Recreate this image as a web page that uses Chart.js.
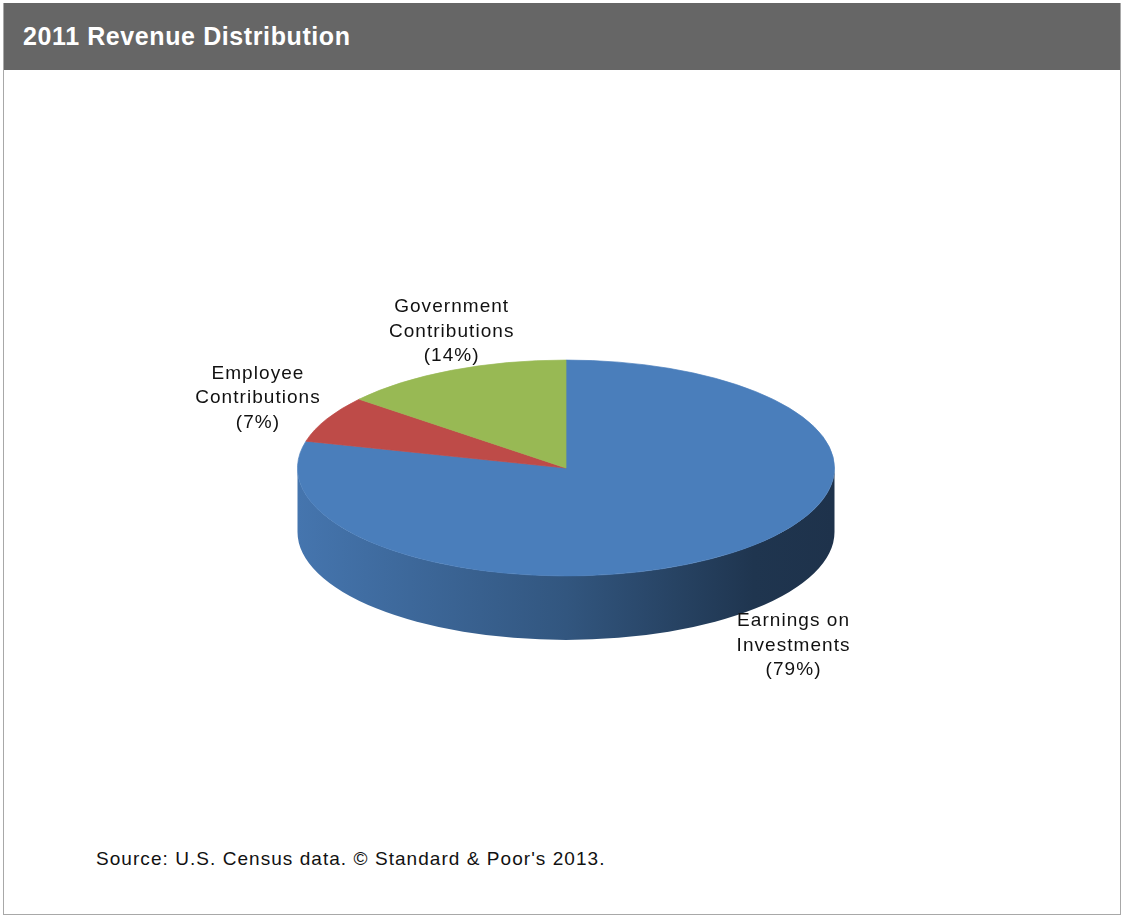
<!DOCTYPE html>
<html lang="en">
  <head>
    <meta charset="UTF-8" />
    <title>2011 Revenue Distribution</title>
    <script src="https://cdn.jsdelivr.net/npm/chart.js"></script>
    <style>
      body { margin: 0; background: #fff; width: 1123px; height: 918px; overflow: hidden; }
      #frame {
        position: absolute; left: 3px; top: 3px; width: 1118px; height: 912px;
        box-sizing: border-box; border: 1px solid #a8a8a8; border-top: none;
      }
      #header {
        height: 67px; background: #666666; color: #fff;
        font: bold 25px "Liberation Sans", Arial, sans-serif; letter-spacing: 0.6px;
        line-height: 67px; padding-left: 19px;
      }
      #source {
        position: absolute; left: 92px; top: 845px;
        font: 19px "Liberation Sans", Arial, sans-serif; letter-spacing: 1.05px; color: #111;
      }
      #pie { position: absolute; left: 0; top: 0; }
    </style>
  </head>
  <body>
    <div id="frame">
      <div id="header">2011 Revenue Distribution</div>
      <div id="source">Source: U.S. Census data. © Standard &amp; Poor's 2013.</div>
    </div>
    <canvas id="pie" width="1123" height="918"></canvas>

    <script>
      // data
      var categories = ["Earnings on Investments", "Employee Contributions", "Government Contributions"];
      var labelLines = [["Earnings on", "Investments"], ["Employee", "Contributions"], ["Government", "Contributions"]];
      var shares = [79, 7, 14];
      var sliceColors = ["#4a7ebb", "#be4b48", "#98b954"];

      var TILT = 0.402; // vertical squash of the pie
      var DEPTH = 64;   // thickness of the 3D side

      function shade(hex, f) {
        var n = parseInt(hex.slice(1), 16);
        var r = Math.round(((n >> 16) & 255) * f);
        var g = Math.round(((n >> 8) & 255) * f);
        var b = Math.round((n & 255) * f);
        return "rgb(" + r + "," + g + "," + b + ")";
      }

      var pie3d = {
        id: "pie3d",
        beforeDatasetsDraw: function (chart) {
          var ctx = chart.ctx;
          var arcs = chart.getDatasetMeta(0).data;
          var cx = arcs[0].x, cy = arcs[0].y, R = arcs[0].outerRadius;

          // side wall, only the front half (canvas angles 0..PI) is visible
          arcs.forEach(function (arc, i) {
            var a1 = Math.max(arc.startAngle, 0);
            var a2 = Math.min(arc.endAngle, Math.PI);
            if (a2 <= a1) return;
            var grad = ctx.createLinearGradient(cx - R, 0, cx + R, 0);
            grad.addColorStop(0, shade(sliceColors[i], 0.93));
            grad.addColorStop(0.5, shade(sliceColors[i], 0.68));
            grad.addColorStop(0.85, shade(sliceColors[i], 0.42));
            grad.addColorStop(1, shade(sliceColors[i], 0.4));
            ctx.beginPath();
            ctx.ellipse(cx, cy, R, R * TILT, 0, a1, a2);
            ctx.ellipse(cx, cy + DEPTH, R, R * TILT, 0, a2, a1, true);
            ctx.closePath();
            ctx.fillStyle = grad;
            ctx.fill();
          });

          // squash the top face
          ctx.save();
          ctx.translate(cx, cy);
          ctx.scale(1, TILT);
          ctx.translate(-cx, -cy);
        },
        afterDatasetsDraw: function (chart) {
          var ctx = chart.ctx;
          ctx.restore();

          var arcs = chart.getDatasetMeta(0).data;
          var lh = 24.5, gap = 6;
          ctx.save();
          ctx.font = '19px "Liberation Sans", Arial, sans-serif';
          ctx.letterSpacing = "1.05px";
          ctx.fillStyle = "#111";
          ctx.textAlign = "center";
          ctx.textBaseline = "middle";
          arcs.forEach(function (arc, i) {
            var mid = (arc.startAngle + arc.endAngle) / 2;
            var c = Math.cos(mid), s = Math.sin(mid);
            var px = arc.x + arc.outerRadius * c;
            var py = arc.y + arc.outerRadius * TILT * s + (s > 0 ? DEPTH : 0);
            var lines = labelLines[i].concat(["(" + shares[i] + "%)"]);
            var w = 0;
            lines.forEach(function (t) { w = Math.max(w, ctx.measureText(t).width); });
            var h = lines.length * lh;
            var bx;
            if (c > 0.5) bx = px + gap + w / 2;
            else if (c < -0.5) bx = px - gap - w / 2;
            else bx = px;
            var by = py + s * (h / 2 + 3) - 3;
            lines.forEach(function (t, k) {
              ctx.fillText(t, bx, by - h / 2 + lh * (k + 0.5));
            });
          });
          ctx.restore();
        },
      };

      new Chart(document.getElementById("pie"), {
        type: "pie",
        data: {
          labels: categories,
          datasets: [
            {
              data: shares,
              backgroundColor: sliceColors,
              borderColor: sliceColors,
              borderWidth: 1,
            },
          ],
        },
        options: {
          responsive: false,
          animation: false,
          layout: { padding: { left: 297, right: 288, top: 199, bottom: 181 } },
          plugins: { legend: { display: false }, tooltip: { enabled: false } },
          events: [],
        },
        plugins: [pie3d],
      });
    </script>
  </body>
</html>
